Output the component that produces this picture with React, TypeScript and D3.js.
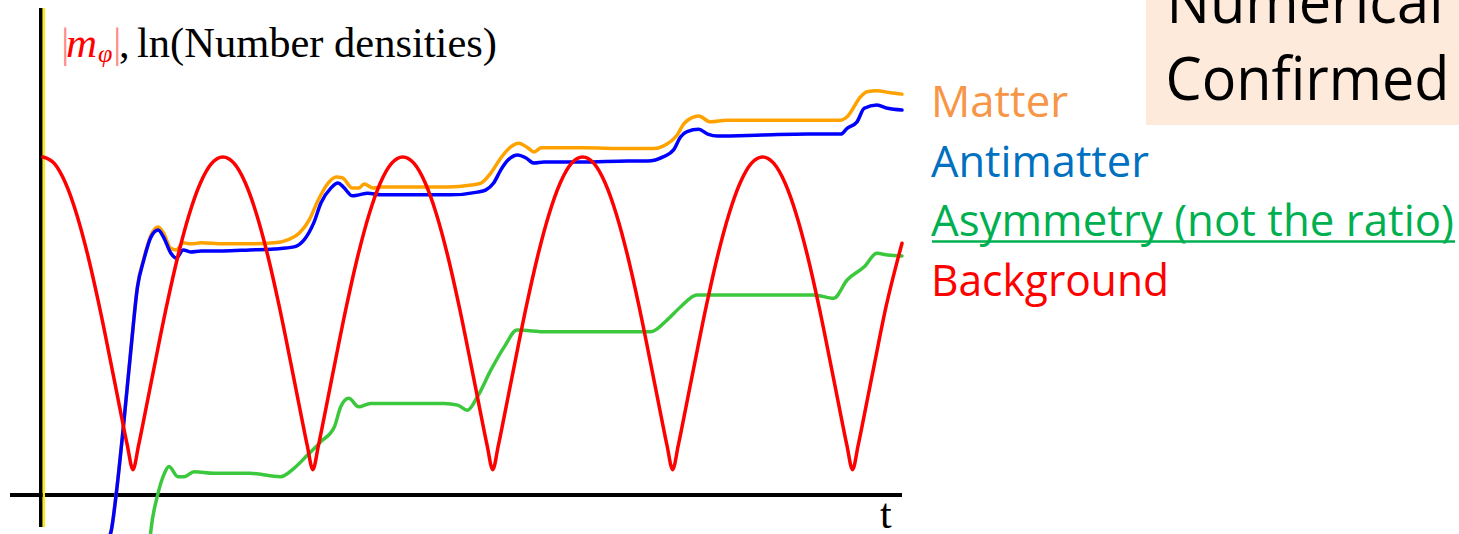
import * as d3 from 'd3'

// [t, value] pairs
const matter: [number, number][] = [
  [0.73, -1.3], [0.76, -1.04], [0.81, -0.06], [0.89, 1.92], [0.98, 4.38], [1.05, 6.17], [1.12, 6.99],
  [1.2, 7.68], [1.28, 7.93], [1.34, 7.75], [1.42, 7.3], [1.48, 7.25], [1.56, 7.46], [1.64, 7.43],
  [1.76, 7.46], [2.0, 7.43], [2.3, 7.43], [2.57, 7.46], [2.72, 7.55], [2.85, 7.75], [2.96, 8.14],
  [3.06, 8.73], [3.17, 9.23], [3.26, 9.41], [3.33, 9.38], [3.44, 9.08], [3.51, 9.08], [3.57, 9.2],
  [3.67, 9.08], [3.76, 9.11], [4.5, 9.11], [4.76, 9.17], [4.87, 9.23], [4.98, 9.53], [5.09, 9.97],
  [5.2, 10.3], [5.29, 10.41], [5.39, 10.27], [5.46, 10.15], [5.54, 10.27], [6.0, 10.27], [6.5, 10.25],
  [6.79, 10.25], [6.9, 10.33], [7.05, 10.65], [7.13, 11.0], [7.29, 11.21], [7.42, 11.04], [7.6, 11.09],
  [8.2, 11.09], [8.87, 11.09], [8.94, 11.19], [9.09, 11.78], [9.16, 11.93], [9.27, 11.96], [9.42, 11.9],
  [9.55, 11.86],
]

const antimatter: [number, number][] = [
  [0.73, -1.3], [0.76, -1.04], [0.81, -0.06], [0.89, 1.92], [0.98, 4.38], [1.05, 6.15], [1.12, 6.95],
  [1.2, 7.63], [1.28, 7.84], [1.34, 7.63], [1.42, 7.16], [1.48, 7.01], [1.56, 7.25], [1.64, 7.19],
  [1.76, 7.22], [2.0, 7.22], [2.3, 7.25], [2.57, 7.28], [2.79, 7.34], [2.9, 7.54], [3.01, 8.05],
  [3.09, 8.64], [3.2, 9.08], [3.28, 9.23], [3.34, 9.11], [3.44, 8.85], [3.51, 8.88], [3.61, 8.93],
  [3.76, 8.88], [4.2, 8.88], [4.53, 8.88], [4.83, 8.96], [4.92, 9.02], [5.01, 9.23], [5.09, 9.62],
  [5.17, 9.91], [5.28, 10.06], [5.37, 9.97], [5.46, 9.82], [5.57, 9.85], [6.0, 9.85], [6.5, 9.88],
  [6.72, 9.88], [6.9, 10.01], [7.01, 10.21], [7.09, 10.6], [7.16, 10.75], [7.29, 10.82], [7.39, 10.68],
  [7.5, 10.62], [8.0, 10.65], [8.5, 10.68], [8.87, 10.68], [8.94, 10.85], [9.05, 11.04], [9.13, 11.44],
  [9.27, 11.54], [9.39, 11.44], [9.55, 11.39],
]

const asymmetry: [number, number][] = [
  [1.19, -1.3], [1.2, -1.04], [1.27, -0.05], [1.35, 0.64], [1.4, 0.84], [1.5, 0.54], [1.57, 0.54],
  [1.68, 0.69], [1.9, 0.64], [2.3, 0.64], [2.64, 0.54], [2.79, 0.79], [2.94, 1.18], [3.09, 1.58],
  [3.24, 2.02], [3.31, 2.61], [3.4, 2.86], [3.51, 2.61], [3.64, 2.71], [4.0, 2.71], [4.46, 2.71],
  [4.61, 2.66], [4.72, 2.51], [4.83, 2.91], [4.98, 3.7], [5.13, 4.39], [5.27, 4.88], [5.6, 4.83],
  [6.2, 4.83], [6.76, 4.83], [6.94, 5.18], [7.09, 5.57], [7.27, 5.92], [7.8, 5.92], [8.57, 5.92],
  [8.79, 5.82], [8.94, 6.36], [9.13, 6.75], [9.27, 7.15], [9.39, 7.1], [9.55, 7.07],
]

const background: [number, number][] = [
  [0, 10.0], [0.125, 9.81], [0.25, 9.23], [0.375, 8.3], [0.5, 7.07], [0.625, 5.6], [0.75, 3.97], [0.875, 2.29], [0.9375, 1.47],
  [1.0, 0.75], [1.0625, 1.47], [1.125, 2.29], [1.25, 3.97], [1.375, 5.6], [1.5, 7.07], [1.625, 8.3], [1.75, 9.23], [1.875, 9.81],
  [2.0, 10.0], [2.125, 9.81], [2.25, 9.23], [2.375, 8.3], [2.5, 7.07], [2.625, 5.6], [2.75, 3.97], [2.875, 2.29], [2.9375, 1.47],
  [3.0, 0.75], [3.0625, 1.47], [3.125, 2.29], [3.25, 3.97], [3.375, 5.6], [3.5, 7.07], [3.625, 8.3], [3.75, 9.23], [3.875, 9.81],
  [4.0, 10.0], [4.125, 9.81], [4.25, 9.23], [4.375, 8.3], [4.5, 7.07], [4.625, 5.6], [4.75, 3.97], [4.875, 2.29], [4.9375, 1.47],
  [5.0, 0.75], [5.0625, 1.47], [5.125, 2.29], [5.25, 3.97], [5.375, 5.6], [5.5, 7.07], [5.625, 8.3], [5.75, 9.23], [5.875, 9.81],
  [6.0, 10.0], [6.125, 9.81], [6.25, 9.23], [6.375, 8.3], [6.5, 7.07], [6.625, 5.6], [6.75, 3.97], [6.875, 2.29], [6.9375, 1.47],
  [7.0, 0.75], [7.0625, 1.47], [7.125, 2.29], [7.25, 3.97], [7.375, 5.6], [7.5, 7.07], [7.625, 8.3], [7.75, 9.23], [7.875, 9.81],
  [8.0, 10.0], [8.125, 9.81], [8.25, 9.23], [8.375, 8.3], [8.5, 7.07], [8.625, 5.6], [8.75, 3.97], [8.875, 2.29], [8.9375, 1.47],
  [9.0, 0.75], [9.0625, 1.47], [9.125, 2.29], [9.25, 3.97], [9.375, 5.6], [9.5, 6.95], [9.55, 7.45],
]

const seriesColors = ['#ffa200', '#0000ff', '#3cc83c', '#ff0000']
const legendLabels = ['Matter', 'Antimatter', 'Asymmetry (not the ratio)', 'Background']
const legendColors = ['#f79646', '#0070c0', '#00b050', '#ff0000']
const legendWidths = [137, 218, 523, 238]
const boxLines = ['Numerical', 'Confirmed']

export default function App() {
  const w = 1459
  const h = 534

  const x = d3.scaleLinear().domain([0, 9.55]).range([43, 902])
  const y = d3.scaleLinear().domain([0, 10]).range([495, 157])

  const line = d3.line<[number, number]>()
    .x(d => x(d[0]))
    .y(d => y(d[1]))
    .curve(d3.curveMonotoneX)

  const series = [matter, antimatter, asymmetry, background]
  const sans = "'Open Sans', 'Noto Sans', sans-serif"
  const serif = "'Liberation Serif', 'Times New Roman', serif"

  return (
    <svg width={w} height={h} style={{ position: 'absolute', left: 0, top: 0, background: '#fff' }}>
      {/* axes */}
      <line x1={10} x2={x(9.55)} y1={y(0)} y2={y(0)} stroke="#000" strokeWidth={4} />
      <line x1={x(0) - 2.2} x2={x(0) - 2.2} y1={8} y2={527} stroke="#000" strokeWidth={3.6} />
      <line x1={x(0) + 0.9} x2={x(0) + 0.9} y1={8} y2={527} stroke="#ffee00" strokeWidth={2.2} />

      {series.map((s, i) => (
        <path key={i} d={line(s) ?? ''} fill="none" stroke={seriesColors[i]}
          strokeWidth={3.5} strokeLinejoin="round" strokeLinecap="round" />
      ))}

      {/* axis labels */}
      <text y={57} fontFamily={serif} fontSize={42.5}>
        <tspan x={61} fill="#ff8a8a">|</tspan>
        <tspan x={66} fill="#ff0000" fontStyle="italic" fontSize={43}>m</tspan>
        <tspan x={98} dy={5} fill="#ff0000" fontStyle="italic" fontSize={26}>φ</tspan>
        <tspan x={113} dy={-5} fill="#ff8a8a">|</tspan>
        <tspan x={119} fill="#000">,</tspan>
        <tspan x={137} fill="#000">ln(Number densities)</tspan>
      </text>
      <text x={880} y={528} fontFamily={serif} fontSize={42} fill="#000">t</text>

      {/* legend */}
      {legendLabels.map((l, i) => (
        <text key={l} x={931} y={117 + i * 59.5} fontFamily={sans} fontSize={43} fill={legendColors[i]}
          textLength={legendWidths[i]} lengthAdjust="spacingAndGlyphs">{l}</text>
      ))}
      <line x1={932} x2={1455} y1={241.5} y2={241.5} stroke="#00b050" strokeWidth={2.6} />

      {/* note box */}
      <rect x={1146} y={-5} width={320} height={130} fill="#fdeadb" />
      <text x={1166.5} y={23} fontFamily={sans} fontSize={60} fill="#000"
        textLength={277} lengthAdjust="spacingAndGlyphs">{boxLines[0]}</text>
      <text x={1165.5} y={100} fontFamily={sans} fontSize={60} fill="#000"
        textLength={284} lengthAdjust="spacingAndGlyphs">{boxLines[1]}</text>
    </svg>
  )
}
